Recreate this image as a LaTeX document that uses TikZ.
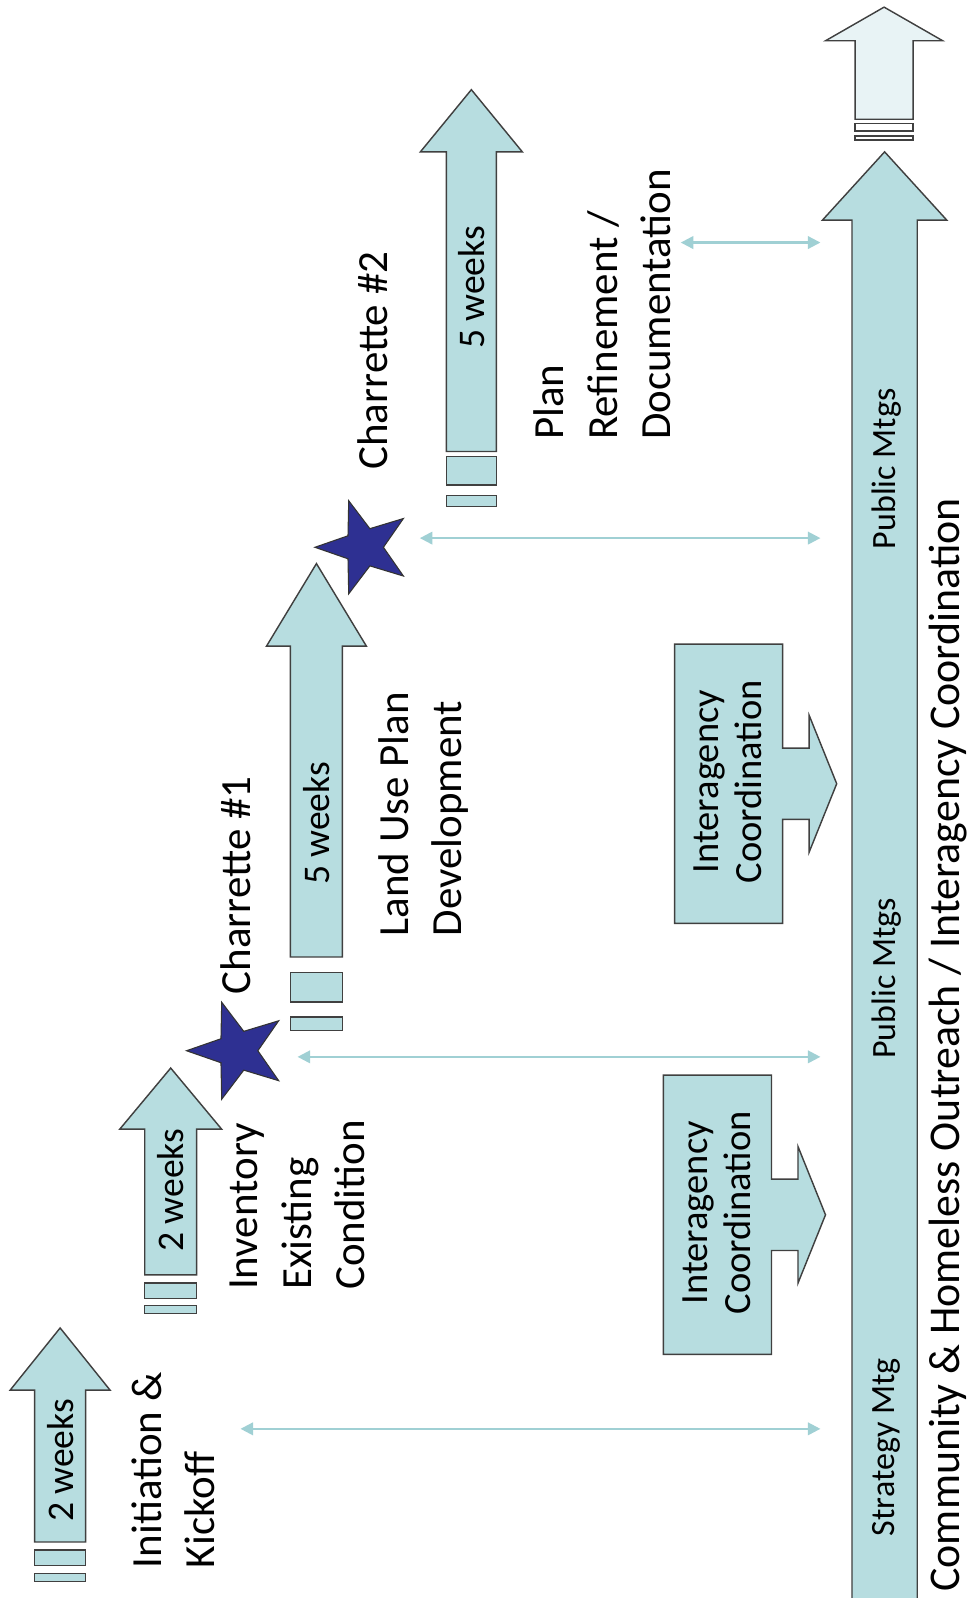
\documentclass[tikz,border=0pt]{standalone}
\usepackage{fontspec}
\setmainfont{Carlito}
\usetikzlibrary{shapes.geometric,arrows.meta}
\definecolor{phasefill}{RGB}{183,221,224}
\definecolor{palefill}{RGB}{232,243,245}
\definecolor{starblue}{RGB}{46,48,146}
\definecolor{edgegray}{RGB}{64,64,64}
\definecolor{linkteal}{RGB}{160,208,212}

% block arrow: centre x, half shaft, bottom, head base, tip, half head
\newcommand{\phasearrow}[7][phasefill]{%
  \filldraw[phase, fill=#1] (#2-#3,#4) -- (#2-#3,#5) -- (#2-#7,#5) -- (#2,#6)
    -- (#2+#7,#5) -- (#2+#3,#5) -- (#2+#3,#4) -- cycle;}
% the two break bars under a block arrow
\newcommand{\breakbars}[7][phasefill]{%
  \filldraw[phase, fill=#1] (#2-#3,#4) rectangle (#2+#3,#5);
  \filldraw[phase, fill=#1] (#2-#3,#6) rectangle (#2+#3,#7);}
% interagency box with its arrow stub: left, right, centre y
\newcommand{\coordbox}[3]{%
  \filldraw[phase, fill=phasefill] (#1,#3-137) -- (#2,#3-137) -- (#2,#3-35)
    -- (#2+26,#3-35) -- (#2+26,#3-67) -- (#2+53,#3) -- (#2+26,#3+67)
    -- (#2+26,#3+35) -- (#2,#3+35) -- (#2,#3+137) -- (#1,#3+137) -- cycle;}

\begin{document}
\begin{tikzpicture}[
  x=0.02cm, y=-0.02cm,
  phase/.style={draw=edgegray, line width=0.8pt, line join=miter},
  lbl/.style={rotate=90, anchor=west, align=left, inner sep=0pt,
              font=\fontsize{24}{30}\selectfont},
  wk/.style={rotate=90, inner sep=0pt, font=\fontsize{21}{24}\selectfont},
  mtg/.style={rotate=90, inner sep=0pt, font=\fontsize{19}{22}\selectfont},
  coord/.style={rotate=90, inner sep=0pt, align=center,
                font=\fontsize{21.5}{24}\selectfont},
  charstar/.style={star, star points=5, star point ratio=2.5, rotate=90,
                   fill=starblue, draw=black!80, line width=0.6pt, inner sep=0pt},
  link/.style={{Triangle[width=7pt,length=7pt]}-{Triangle[width=7pt,length=7pt]},
               draw=linkteal, line width=1.2pt}
]
\useasboundingbox[fill=white] (0,0) rectangle (953,1568);

% main outreach bar and the pale one after it
\phasearrow{868}{32}{1570}{216}{149}{61}
\phasearrow[palefill]{867.5}{28.5}{117}{40}{7}{57.5}
\breakbars[white]{867.5}{28.5}{121}{128.5}{133.5}{137.5}

% the four phases
\phasearrow{59}{25}{1513}{1364}{1303}{49}
\breakbars{59}{25}{1521}{1536}{1544}{1552}
\phasearrow{167.5}{25.5}{1251}{1108}{1048}{50}
\breakbars{167.5}{25.5}{1259}{1274}{1281}{1289}
\phasearrow{310.5}{25.5}{939}{634}{553}{49}
\breakbars{310.5}{25.5}{954}{983}{998}{1011}
\phasearrow{462.5}{24.5}{443}{149}{88}{50}
\breakbars{462.5}{24.5}{448}{476}{486}{497}

\node[wk] (w1) at (59,1433)    {2 weeks};
\node[wk] (w2) at (167.5,1168) {2 weeks};
\node[wk] (w3) at (310.5,808)  {5 weeks};
\node[wk] (w4) at (462.5,282)  {5 weeks};

\node[lbl] (init) at (170,1539)  {Initiation \&\\Kickoff};
\node[lbl] (inv)  at (292,1266)  {Inventory\\Existing\\Condition};
\node[lbl] (ch1)  at (231,976)   {Charrette \#1};
\node[lbl] (lup)  at (415.5,919) {Land Use Plan\\Development};
\node[lbl] (ch2)  at (366,461)   {Charrette \#2};
\node[lbl] (ref)  at (591,432)   {Plan\\Refinement /\\Documentation};

\node[charstar, minimum size=2cm]    (s1) at (233,1031) {};
\node[charstar, minimum size=1.92cm] (s2) at (357,537)  {};

% interagency coordination
\coordbox{651}{757}{1192}
\coordbox{662}{768}{769}
\node[coord] (ic1) at (703,1190) {Interagency\\Coordination};
\node[coord] (ic2) at (714,767)  {Interagency\\Coordination};

\node[mtg] (sm)  at (870,1420) {Strategy Mtg};
\node[mtg] (pm1) at (870,960)  {Public Mtgs};
\node[mtg] (pm2) at (870,460)  {Public Mtgs};
\node[lbl, font=\fontsize{24.5}{30}\selectfont] (out) at (930,1562)
  {Community \& Homeless Outreach / Interagency Coordination};

% links to the outreach bar
\coordinate (l1a) at (236,1402);  \coordinate (l1b) at (805,1402);
\coordinate (l2a) at (292,1037);  \coordinate (l2b) at (805,1037);
\coordinate (l3a) at (412,528);   \coordinate (l3b) at (805,528);
\coordinate (l4a) at (668,238);   \coordinate (l4b) at (805,238);
\draw[link] (l1a) -- (l1b);
\draw[link] (l2a) -- (l2b);
\draw[link] (l3a) -- (l3b);
\draw[link] (l4a) -- (l4b);

\end{tikzpicture}
\end{document}
